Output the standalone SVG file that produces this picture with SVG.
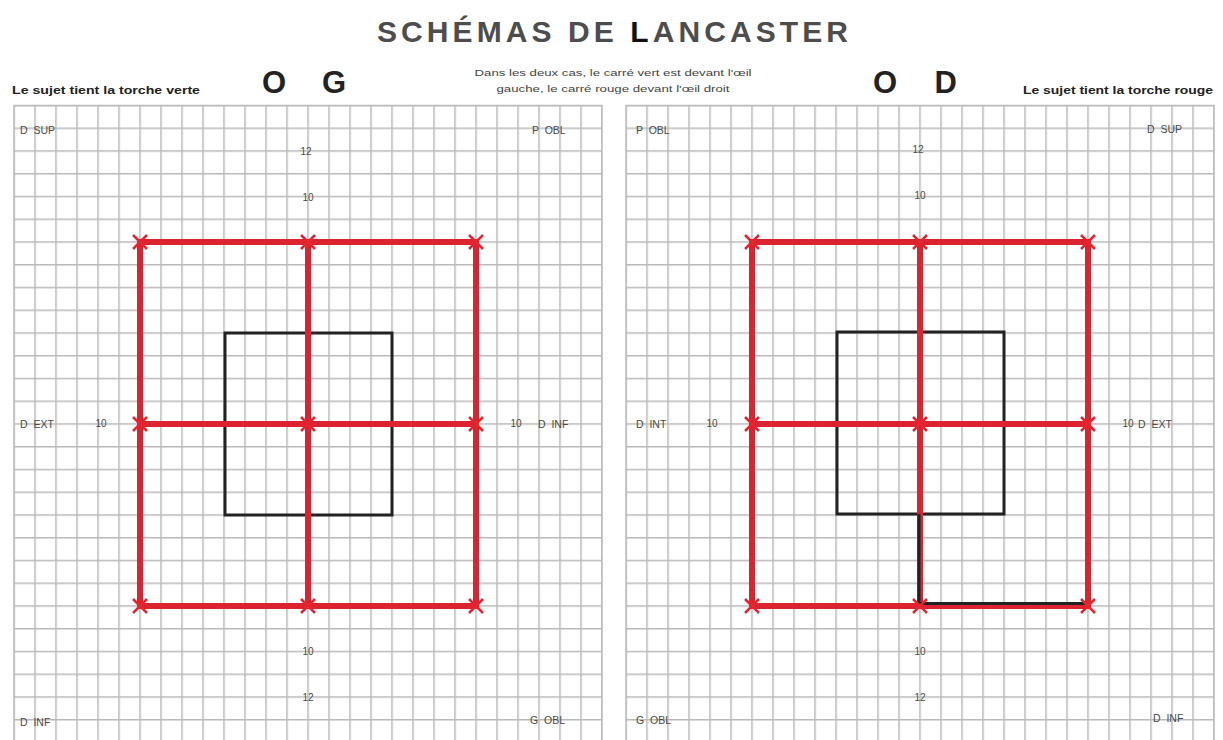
<svg xmlns="http://www.w3.org/2000/svg" width="1223" height="740" viewBox="0 0 1223 740">
<defs>
<pattern id="gridL" patternUnits="userSpaceOnUse" x="13.25" y="104.75" width="21" height="22.75">
<rect x="0" y="0" width="1.5" height="22.75" fill="#bababa"/>
<rect x="0" y="0" width="21" height="1.5" fill="#bababa"/>
</pattern>
<pattern id="gridR" patternUnits="userSpaceOnUse" x="625.25" y="104.75" width="21" height="22.75">
<rect x="0" y="0" width="1.5" height="22.75" fill="#bababa"/>
<rect x="0" y="0" width="21" height="1.5" fill="#bababa"/>
</pattern>
<g id="x"><path d="M-7,-7 L7,7 M-7,7 L7,-7" stroke="#e8242f" stroke-width="2.5" fill="none"/></g>
</defs>
<style>
.lbl{font-family:"Liberation Sans",Arial,sans-serif;font-size:10.5px;fill:#4a4a4a;white-space:pre}
.num{font-family:"Liberation Sans",Arial,sans-serif;font-size:10px;fill:#4a4a4a;text-anchor:middle}
.hdr{font-family:"Liberation Sans",Arial,sans-serif;font-size:11px;font-weight:bold;fill:#222}
.mid{font-family:"Liberation Sans",Arial,sans-serif;font-size:9px;fill:#444}
.eye{font-family:"Liberation Sans",Arial,sans-serif;font-size:31px;font-weight:bold;fill:#222}
.red{stroke:#dc2430;stroke-width:6;fill:none;stroke-linecap:square}
.blk{stroke:#222;stroke-width:3;fill:none}
</style>
<rect width="1223" height="740" fill="#ffffff"/>
<text x="377" y="42" textLength="471" lengthAdjust="spacing" style="font-family:'Liberation Sans',Arial,sans-serif;font-size:30px;font-weight:bold;fill:#4d4d4d">SCHÉMAS DE <tspan fill="#111">L</tspan>ANCASTER</text>
<text class="hdr" x="12" y="94" textLength="188" lengthAdjust="spacingAndGlyphs">Le sujet tient la torche verte</text>
<text class="eye" x="262" y="93" textLength="84" lengthAdjust="spacing">O G</text>
<text class="mid" x="613" y="76" text-anchor="middle" textLength="277" lengthAdjust="spacingAndGlyphs">Dans les deux cas, le carré vert est devant l'œil</text>
<text class="mid" x="613" y="92" text-anchor="middle" textLength="233" lengthAdjust="spacingAndGlyphs">gauche, le carré rouge devant l'œil droit</text>
<text class="eye" x="873" y="93" textLength="84" lengthAdjust="spacing">O D</text>
<text class="hdr" x="1023" y="94" textLength="190" lengthAdjust="spacingAndGlyphs">Le sujet tient la torche rouge</text>

<g id="panel-og">
<rect x="14" y="105.5" width="588" height="640" fill="url(#gridL)"/>
<rect x="14" y="105.5" width="588" height="640" fill="none" stroke="#bababa" stroke-width="1.5"/>
<text class="lbl" x="20" y="134">D  SUP</text>
<text class="lbl" x="532" y="134">P  OBL</text>
<text class="lbl" x="20" y="428">D  EXT</text>
<text class="lbl" x="538" y="428">D  INF</text>
<text class="lbl" x="20" y="726">D  INF</text>
<text class="lbl" x="530" y="724">G  OBL</text>
<text class="num" x="306" y="155">12</text>
<text class="num" x="308" y="201">10</text>
<text class="num" x="101" y="427">10</text>
<text class="num" x="516" y="427">10</text>
<text class="num" x="308" y="655">10</text>
<text class="num" x="308" y="701">12</text>
</g>

<g id="panel-od">
<rect x="626" y="105.5" width="588" height="640" fill="url(#gridR)"/>
<rect x="626" y="105.5" width="588" height="640" fill="none" stroke="#bababa" stroke-width="1.5"/>
<text class="lbl" x="636" y="134">P  OBL</text>
<text class="lbl" x="1147" y="133">D  SUP</text>
<text class="lbl" x="636" y="428">D  INT</text>
<text class="lbl" x="1138" y="428">D  EXT</text>
<text class="lbl" x="636" y="724">G  OBL</text>
<text class="lbl" x="1153" y="722">D  INF</text>
<text class="num" x="918" y="153">12</text>
<text class="num" x="920" y="199">10</text>
<text class="num" x="712" y="427">10</text>
<text class="num" x="1128" y="427">10</text>
<text class="num" x="920" y="655">10</text>
<text class="num" x="920" y="701">12</text>
</g>

<g id="green-square-og">
<rect class="blk" x="225" y="333" width="167" height="182"/>
</g>
<g id="red-grid-og">
<path class="red" d="M140,242 H476 M140,424 H476 M140,606 H476 M140,242 V606 M308,242 V606 M476,242 V606"/>
<use href="#x" x="140" y="242"/><use href="#x" x="308" y="242"/><use href="#x" x="476" y="242"/>
<use href="#x" x="140" y="424"/><use href="#x" x="308" y="424"/><use href="#x" x="476" y="424"/>
<use href="#x" x="140" y="606"/><use href="#x" x="308" y="606"/><use href="#x" x="476" y="606"/>
</g>

<g id="green-square-od">
<rect class="blk" x="837" y="332" width="167" height="182"/>
</g>
<g id="red-grid-od">
<path class="red" d="M752,242 H1088 M752,424 H1088 M752,606 H1088 M752,242 V606 M920,242 V606 M1088,242 V606"/>
<path class="blk" d="M919,514 V603.5 H1086"/>
<use href="#x" x="752" y="242"/><use href="#x" x="920" y="242"/><use href="#x" x="1088" y="242"/>
<use href="#x" x="752" y="424"/><use href="#x" x="920" y="424"/><use href="#x" x="1088" y="424"/>
<use href="#x" x="752" y="606"/><use href="#x" x="920" y="606"/><use href="#x" x="1088" y="606"/>
</g>
</svg>
